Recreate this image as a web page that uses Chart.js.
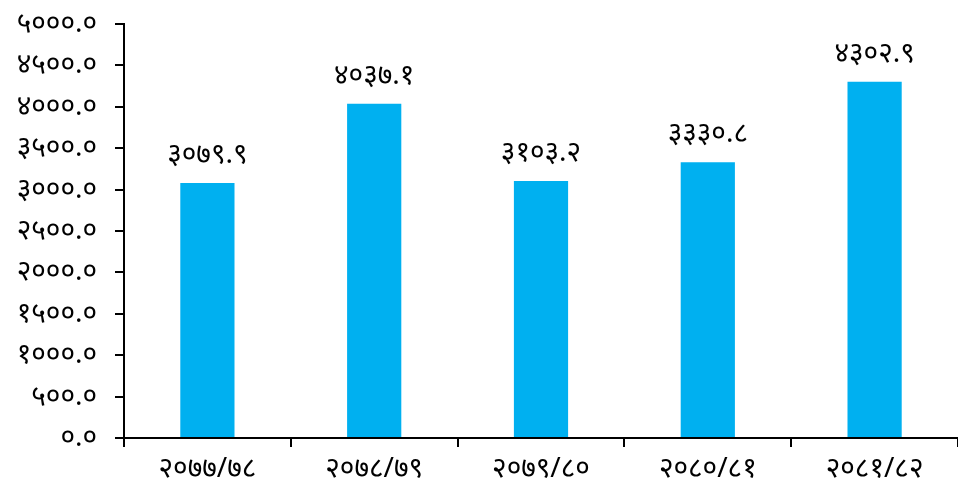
<!DOCTYPE html>
<html>
<head>
<meta charset="utf-8">
<script src="https://cdn.jsdelivr.net/npm/chart.js@4/dist/chart.umd.min.js"></script>
<style>
  html, body { margin: 0; padding: 0; background: #fff; }
  #wrap { width: 958px; height: 487px; }
</style>
</head>
<body>
<div id="wrap"><canvas id="chart"></canvas></div>
<script>
const categories = ['२०७७/७८', '२०७८/७९', '२०७९/८०', '२०८०/८१', '२०८१/८२'];
const values = [3079.9, 4037.1, 3103.2, 3330.8, 4302.9];
const valueLabels = ['३०७९.९', '४०३७.१', '३१०३.२', '३३३०.८', '४३०२.९'];
const yTickLabels = ['०.०', '५००.०', '१०००.०', '१५००.०', '२०००.०', '२५००.०', '३०००.०', '३५००.०', '४०००.०', '४५००.०', '५०००.०'];

const FONT = "'Noto Sans', 'DejaVu Sans', sans-serif";

// draws the value over each bar
const barLabels = {
    id: 'barLabels',
    afterDatasetsDraw(chart) {
        const ctx = chart.ctx;
        const meta = chart.getDatasetMeta(0);
        ctx.save();
        ctx.font = '28px ' + FONT;
        ctx.fillStyle = '#000';
        ctx.textAlign = 'center';
        ctx.textBaseline = 'middle';
        meta.data.forEach((bar, i) => {
            ctx.fillText(valueLabels[i], bar.x, bar.y - 28);
        });
        ctx.restore();
    }
};

new Chart(document.getElementById('chart'), {
    type: 'bar',
    data: {
        labels: categories,
        datasets: [{
            data: values,
            backgroundColor: '#00B0F0',
            barPercentage: 0.65,
            categoryPercentage: 0.5
        }]
    },
    options: {
        responsive: true,
        maintainAspectRatio: false,
        animation: false,
        layout: { padding: { top: 24, right: 0, left: 0, bottom: 0 } },
        plugins: { legend: { display: false }, tooltip: { enabled: false } },
        scales: {
            x: {
                offset: true,
                grid: { offset: true, drawOnChartArea: false, drawTicks: true, tickLength: 9, color: '#000', lineWidth: 2 },
                border: { color: '#000', width: 2 },
                ticks: { color: '#000', font: { family: FONT, size: 28 }, padding: 5, maxRotation: 0 },
                afterFit: (scale) => { scale.height = 49; scale.paddingLeft = 0; scale.paddingRight = 0; }
            },
            y: {
                min: 0,
                max: 5000,
                grid: { drawOnChartArea: false, drawTicks: true, tickLength: 9, color: '#000', lineWidth: 2 },
                border: { color: '#000', width: 2 },
                ticks: {
                    stepSize: 500,
                    color: '#000',
                    font: { family: FONT, size: 28 },
                    padding: 18,
                    callback: (v, i) => yTickLabels[i]
                },
                afterFit: (scale) => { scale.width = 124; scale.paddingTop = 0; scale.paddingBottom = 0; }
            }
        }
    },
    plugins: [barLabels]
});
</script>
</body>
</html>
